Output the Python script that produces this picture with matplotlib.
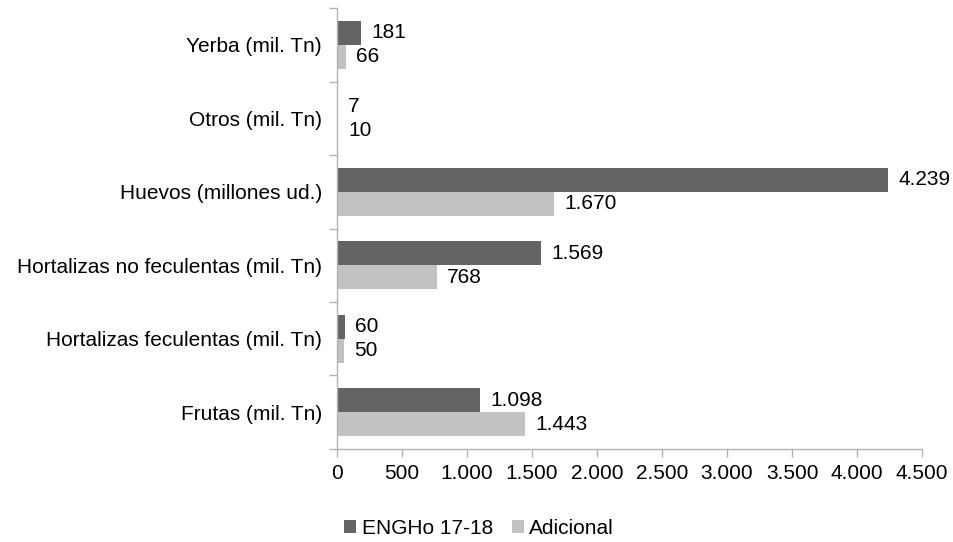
import matplotlib.pyplot as plt
import numpy as np
from matplotlib.ticker import FuncFormatter

plt.rcParams['font.family'] = ['Liberation Sans', 'DejaVu Sans']

categories = [
    "Yerba (mil. Tn)",
    "Otros (mil. Tn)",
    "Huevos (millones ud.)",
    "Hortalizas no feculentas (mil. Tn)",
    "Hortalizas feculentas (mil. Tn)",
    "Frutas (mil. Tn)",
]
engho = [181, 7, 4239, 1569, 60, 1098]
adicional = [66, 10, 1670, 768, 50, 1443]
series_names = ["ENGHo 17-18", "Adicional"]
x_ticks = [0, 500, 1000, 1500, 2000, 2500, 3000, 3500, 4000, 4500]

dark = "#646464"
light = "#c2c2c2"
axis_col = "#b3b3b3"
fs = 15


def fmt_thousands(v):
    return f"{int(round(v)):,}".replace(",", ".")


fig = plt.figure(figsize=(9.54, 5.42), dpi=100)
ax = fig.add_axes([0.3533, 0.1716, 0.6132, 0.8136])

y = np.arange(len(categories))
h = 0.327
b1 = ax.barh(y - h / 2, engho, height=h, color=dark, label=series_names[0])
b2 = ax.barh(y + h / 2, adicional, height=h, color=light, label=series_names[1])

for bars, vals in ((b1, engho), (b2, adicional)):
    for bar, v in zip(bars, vals):
        ax.annotate(fmt_thousands(v),
                    xy=(bar.get_width(), bar.get_y() + bar.get_height() / 2),
                    xytext=(7.5, 0), textcoords="offset points",
                    va="center", ha="left", fontsize=fs, color="#000000")

ax.set_xlim(0, 4500)
ax.set_ylim(len(categories) - 0.5, -0.5)
ax.set_xticks(x_ticks)
ax.xaxis.set_major_formatter(FuncFormatter(lambda v, p: fmt_thousands(v)))
ax.set_yticks(y)
ax.set_yticklabels(categories)
ax.set_yticks(np.arange(-0.5, len(categories), 1), minor=True)

for s in ("top", "right"):
    ax.spines[s].set_visible(False)
for s in ("left", "bottom"):
    ax.spines[s].set_color(axis_col)
    ax.spines[s].set_linewidth(1)

ax.tick_params(axis="y", which="major", length=0, pad=11, labelsize=fs)
ax.tick_params(axis="y", which="minor", length=6, color=axis_col, width=1)
ax.tick_params(axis="x", which="major", length=6, color=axis_col, width=1,
               pad=5, labelsize=fs)

handles = [b1, b2]
fig.legend(handles, series_names, loc="center", bbox_to_anchor=(0.502, 0.025),
           ncol=2, frameon=False, fontsize=fs, handlelength=0.6,
           handleheight=0.6, handletextpad=0.25, columnspacing=0.9)

fig.savefig("out.png", dpi=100, facecolor="white")
